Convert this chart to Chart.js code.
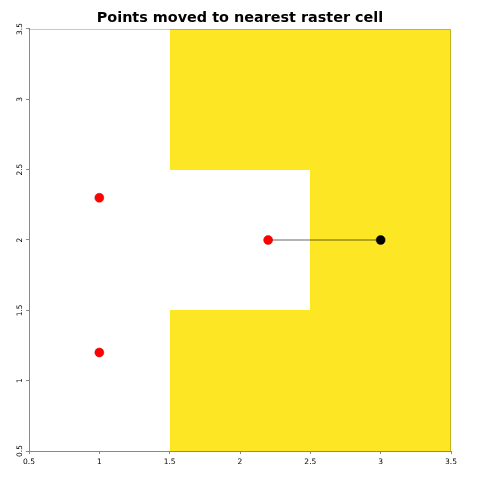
<!DOCTYPE html>
<html>
<head>
<meta charset="utf-8">
<script src="https://cdn.jsdelivr.net/npm/chart.js@4/dist/chart.umd.min.js"></script>
<style>
html,body{margin:0;padding:0;background:#fff;}
#wrap{width:480px;height:480px;}
</style>
</head>
<body>
<div id="wrap"><canvas id="c" width="480" height="480"></canvas></div>
<script>
// Raster cells (centres) and their values (1 = filled)
const rasterX = [1, 2, 3];
const rasterY = [1, 2, 3];
// rasterValues[row for y][col for x]
const rasterValues = [
  [0, 1, 1], // y = 1
  [0, 0, 1], // y = 2
  [0, 1, 1]  // y = 3
];
const cellSize = 1;
// Original points
const pointsX = [1, 1, 2.2];
const pointsY = [2.3, 1.2, 2];
// Moved point
const movedX = [3];
const movedY = [2];
// Movement segment
const segX = [2.2, 3];
const segY = [2, 2];
const axisMin = 0.5, axisMax = 3.5, tickStep = 0.5;
const titleText = 'Points moved to nearest raster cell';

const rasterPlugin = {
  id: 'raster',
  beforeDatasetsDraw(chart) {
    const {ctx, scales: {x, y}, chartArea} = chart;
    ctx.save();
    ctx.beginPath();
    ctx.rect(chartArea.left, chartArea.top, chartArea.width, chartArea.height);
    ctx.clip();
    ctx.fillStyle = '#FDE725';
    rasterY.forEach((cy, r) => {
      rasterX.forEach((cx, c) => {
        if (rasterValues[r][c]) {
          const x0 = Math.round(x.getPixelForValue(cx - cellSize / 2));
          const x1 = Math.round(x.getPixelForValue(cx + cellSize / 2));
          const y0 = Math.round(y.getPixelForValue(cy + cellSize / 2));
          const y1 = Math.round(y.getPixelForValue(cy - cellSize / 2));
          ctx.fillRect(x0, y0, x1 - x0, y1 - y0);
        }
      });
    });
    ctx.restore();
  },
  afterDraw(chart) {
    const {ctx, chartArea: a} = chart;
    ctx.save();
    ctx.strokeStyle = 'rgba(0,0,0,0.22)';
    ctx.lineWidth = 1;
    ctx.beginPath();
    ctx.moveTo(a.left, a.top + 0.5);
    ctx.lineTo(a.right - 0.5, a.top + 0.5);
    ctx.lineTo(a.right - 0.5, a.bottom);
    ctx.stroke();
    ctx.restore();
  }
};

const fmt = v => String(Math.round(v * 10) / 10);

new Chart(document.getElementById('c'), {
  type: 'scatter',
  data: {
    datasets: [
      {
        type: 'line',
        data: segX.map((v, i) => ({x: v, y: segY[i]})),
        borderColor: 'rgba(0,0,0,0.4)',
        borderWidth: 1.5,
        pointRadius: 0,
        fill: false,
        order: 3
      },
      {
        data: pointsX.map((v, i) => ({x: v, y: pointsY[i]})),
        backgroundColor: '#FF0000',
        borderColor: '#D00000',
        borderWidth: 0.5,
        pointRadius: 4.5,
        order: 1
      },
      {
        data: movedX.map((v, i) => ({x: v, y: movedY[i]})),
        backgroundColor: '#000000',
        borderColor: '#000000',
        borderWidth: 0.5,
        pointRadius: 4.5,
        order: 2
      }
    ]
  },
  options: {
    responsive: false,
    animation: false,
    layout: {padding: 0},
    plugins: {
      legend: {display: false},
      tooltip: {enabled: false},
      title: {
        display: true,
        text: titleText,
        color: '#000',
        font: {family: 'DejaVu Sans', size: 14.4, weight: 'bold', lineHeight: 1.2},
        padding: {top: 9.5, bottom: 2.2}
      }
    },
    scales: {
      x: {
        type: 'linear',
        min: axisMin, max: axisMax,
        ticks: {stepSize: tickStep, color: '#000', font: {family: 'DejaVu Sans', size: 7.5}, padding: 4, maxRotation: 0, callback: fmt},
        grid: {display: true, drawOnChartArea: false, drawTicks: true, tickLength: 3, color: '#888'},
        border: {display: true, color: '#888', width: 1},
        afterFit(s) { s.height = 29; }
      },
      y: {
        type: 'linear',
        min: axisMin, max: axisMax,
        ticks: {stepSize: tickStep, color: '#000', font: {family: 'DejaVu Sans', size: 7.5}, padding: 0, minRotation: 90, maxRotation: 90, crossAlign: 'center', callback: fmt},
        grid: {display: true, drawOnChartArea: false, drawTicks: true, tickLength: 3, color: '#888'},
        border: {display: true, color: '#888', width: 1},
        afterFit(s) { s.width = 29; }
      },
      y2: {
        type: 'linear',
        position: 'right',
        display: true,
        min: axisMin, max: axisMax,
        ticks: {display: false},
        grid: {display: false},
        border: {display: false},
        afterFit(s) { s.width = 29; }
      }
    }
  },
  plugins: [rasterPlugin]
});
</script>
</body>
</html>
